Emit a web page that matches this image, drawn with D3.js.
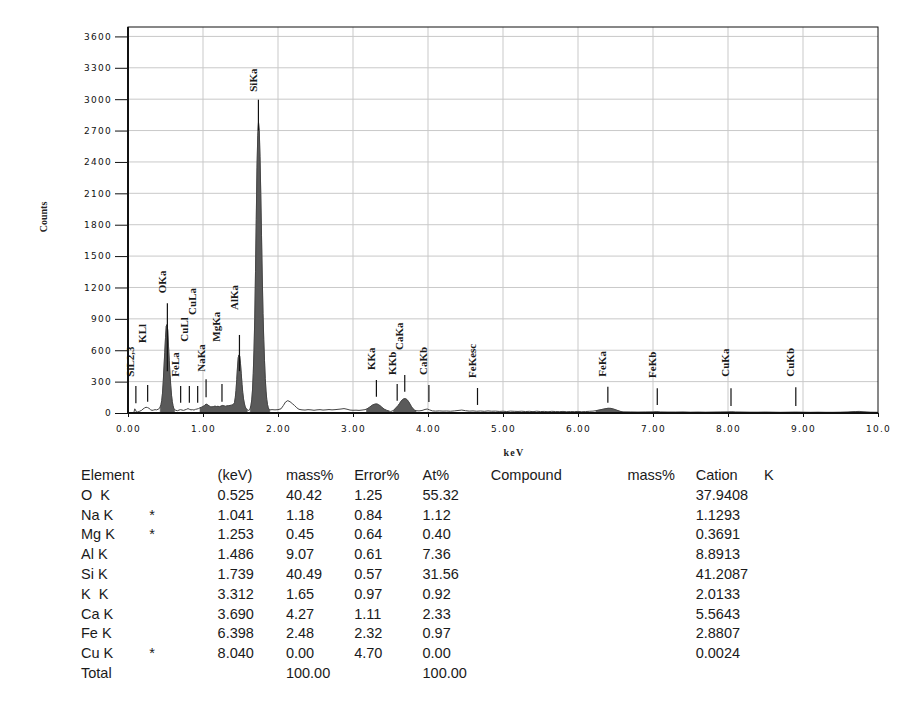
<!DOCTYPE html>
<html>
<head>
<meta charset="utf-8">
<script src="https://cdn.jsdelivr.net/npm/d3@7"></script>
<style>
body { margin: 0; background: #fff; }
svg { display: block; }
</style>
</head>
<body>
<svg id="chart" width="921" height="713"></svg>
<script>
// spectrum: [keV, counts]
var spectrum = [
  [0.00,0],[0.04,0],[0.07,2],[0.08,10],[0.09,40],[0.10,30],[0.11,12],[0.13,10],[0.15,15],[0.18,25],
  [0.20,38],[0.22,48],[0.24,55],[0.26,52],[0.28,45],[0.30,32],[0.32,25],[0.34,28],[0.36,32],[0.38,30],
  [0.40,35],[0.42,45],
  [0.43,60],[0.44,80],[0.45,120],[0.46,190],[0.47,300],[0.48,440],[0.49,580],[0.50,720],[0.51,830],
  [0.52,845],[0.53,790],[0.54,640],[0.55,500],[0.56,370],[0.57,260],[0.58,170],[0.59,110],[0.60,70],
  [0.61,45],[0.62,32],
  [0.64,25],[0.66,22],[0.68,28],[0.70,32],[0.72,28],[0.74,25],[0.76,30],[0.78,35],[0.80,42],[0.82,35],
  [0.84,30],[0.86,32],[0.88,28],[0.90,35],[0.92,38],[0.94,42],
  [0.96,50],[0.98,55],[1.00,62],[1.02,72],[1.04,85],[1.06,80],[1.08,68],[1.10,60],[1.12,58],[1.14,62],
  [1.16,65],[1.18,62],[1.20,64],[1.22,60],[1.24,66],[1.26,72],[1.28,68],[1.30,64],[1.32,68],[1.34,70],
  [1.36,72],[1.38,75],
  [1.40,80],[1.41,85],[1.42,100],[1.43,145],[1.44,215],[1.45,320],[1.46,440],[1.47,530],[1.48,555],
  [1.49,540],[1.50,470],[1.51,375],[1.52,275],[1.53,195],[1.54,135],[1.55,95],[1.56,65],[1.57,48],
  [1.58,38],[1.59,30],[1.60,25],[1.61,25],[1.62,30],
  [1.63,45],[1.64,75],[1.65,125],[1.66,220],[1.67,380],[1.68,600],[1.69,900],[1.70,1350],[1.71,1850],
  [1.72,2350],[1.73,2650],[1.74,2780],[1.75,2700],[1.76,2450],[1.77,2100],[1.78,1700],[1.79,1300],
  [1.80,950],[1.81,700],[1.82,500],[1.83,330],[1.84,210],[1.85,130],[1.86,80],[1.87,50],[1.88,35],[1.89,30],
  [1.92,32],[1.96,30],[2.00,32],[2.04,40],[2.07,70],[2.10,105],[2.13,118],[2.16,108],[2.19,90],[2.22,72],
  [2.25,50],[2.28,35],[2.32,30],[2.36,28],[2.40,32],[2.44,30],[2.48,26],[2.52,30],[2.56,32],[2.60,28],
  [2.64,30],[2.68,33],[2.72,30],[2.76,32],[2.80,35],[2.84,38],[2.88,42],[2.92,36],[2.96,28],[3.00,26],
  [3.04,27],[3.08,25],[3.12,28],[3.16,32],
  [3.18,38],[3.20,45],[3.22,55],[3.24,66],[3.26,76],[3.28,82],[3.30,86],[3.32,86],[3.34,80],[3.36,70],
  [3.38,58],[3.40,45],[3.42,35],[3.45,25],[3.48,18],[3.50,15],[3.52,18],
  [3.54,25],[3.56,40],[3.58,55],[3.60,70],[3.62,90],[3.64,112],[3.66,128],[3.68,136],[3.70,137],[3.72,128],
  [3.74,110],[3.76,85],[3.78,60],[3.80,40],[3.82,28],[3.84,22],
  [3.88,20],[3.92,24],[3.96,34],[3.99,38],[4.02,30],[4.06,20],[4.10,18],[4.15,20],[4.20,18],[4.25,19],
  [4.30,17],[4.35,20],[4.40,24],[4.45,28],[4.50,22],[4.55,18],[4.60,20],[4.65,17],[4.70,19],[4.75,16],
  [4.80,20],[4.85,17],[4.90,18],[4.95,15],[5.00,17],[5.05,14],[5.10,18],[5.15,16],[5.20,15],[5.25,17],
  [5.30,14],[5.35,16],[5.40,13],[5.45,17],[5.50,14],[5.55,15],[5.60,12],[5.65,16],[5.70,14],[5.75,13],
  [5.80,15],[5.85,12],[5.90,14],[5.95,13],[6.00,15],[6.05,12],[6.10,14],[6.15,16],[6.20,18],
  [6.24,22],[6.28,28],[6.32,34],[6.36,40],[6.40,45],[6.44,44],[6.48,36],[6.52,26],[6.56,16],[6.60,10],
  [6.70,9],[6.80,8],[6.90,9],[7.00,10],[7.05,12],[7.10,9],[7.20,8],[7.30,8],[7.40,9],[7.50,7],
  [7.60,8],[7.70,7],[7.80,8],[7.90,9],[8.00,10],[8.05,11],[8.10,9],[8.20,8],[8.30,7],[8.40,7],
  [8.50,8],[8.60,7],[8.70,6],[8.80,7],[8.90,8],[9.00,7],[9.10,6],[9.20,7],[9.30,6],[9.40,6],
  [9.50,7],[9.60,9],[9.70,14],[9.75,15],[9.80,11],[9.90,7],[10.00,6]
];

// shaded windows (keV)
var fillRanges = [[0.43,0.62],[0.95,1.595],[1.625,1.89],[3.17,3.48],[3.53,3.84],[6.22,10.0]];

var yTicks = [0,300,600,900,1200,1500,1800,2100,2400,2700,3000,3300,3600];
var xTicks = [0,1,2,3,4,5,6,7,8,9,10];
var xTickLabels = ["0.00","1.00","2.00","3.00","4.00","5.00","6.00","7.00","8.00","9.00","10.0"];

// peak markers
var markerNames  = ["SiL2,3","KLl","OKa","FeLa","CuLl","CuLa","NaKa","MgKa","AlKa","SiKa",
                    "KKa","KKb","CaKa","CaKb","FeKesc","FeKa","FeKb","CuKa","CuKb"];
var markerKeV    = [0.105,0.262,0.525,0.702,0.818,0.929,1.041,1.253,1.486,1.739,
                    3.312,3.589,3.690,4.012,4.660,6.398,7.057,8.040,8.904];
var markerTop    = [258,268,1049,258,258,258,322,277,746,2995,316,277,364,268,239,252,236,236,246];
var markerBottom = [93,108,400,99,99,99,150,108,400,2700,156,118,204,105,77,99,77,67,67];
var labelBase    = [347,670,1145,347,682,938,395,682,985,3071,411,364,603,364,335,347,335,347,347];

// quantitative table
var tableHeader = ["Element","","(keV)","mass%","Error%","At%","Compound","","mass%","Cation","K"];
var elementNames = ["O  K","Na K","Mg K","Al K","Si K","K  K","Ca K","Fe K","Cu K"];
var elementFlags = ["","*","*","","","","","","*"];
var lineKeV    = ["0.525","1.041","1.253","1.486","1.739","3.312","3.690","6.398","8.040"];
var massPct    = ["40.42","1.18","0.45","9.07","40.49","1.65","4.27","2.48","0.00"];
var errorPct   = ["1.25","0.84","0.64","0.61","0.57","0.97","1.11","2.32","4.70"];
var atomPct    = ["55.32","1.12","0.40","7.36","31.56","0.92","2.33","0.97","0.00"];
var cationVals = ["37.9408","1.1293","0.3691","8.8913","41.2087","2.0133","5.5643","2.8807","0.0024"];
var totalRow   = ["Total","","","100.00","","100.00"];

var svg = d3.select("#chart");
var x = d3.scaleLinear().domain([0,10]).range([128,878]);
var y = d3.scaleLinear().domain([0,3690]).range([413,27]);

// grid
svg.append("g").selectAll("line").data(xTicks.slice(1,-1)).enter().append("line")
  .attr("x1", d => x(d)).attr("x2", d => x(d))
  .attr("y1", y(0)).attr("y2", y.range()[1])
  .attr("stroke", "#c9c9c9");
svg.append("g").selectAll("line").data(yTicks.slice(1)).enter().append("line")
  .attr("x1", x(0)).attr("x2", x(10))
  .attr("y1", d => y(d)).attr("y2", d => y(d))
  .attr("stroke", "#c9c9c9");

// spectrum fill
var area = d3.area().x(d => x(d[0])).y0(y(0)).y1(d => y(d[1]));
fillRanges.forEach(function(r){
  var pts = spectrum.filter(d => d[0] >= r[0] && d[0] <= r[1]);
  svg.append("path").datum(pts).attr("d", area)
    .attr("fill", "#5a5a5a").attr("stroke", "#5a5a5a").attr("stroke-width", 0.6);
});

var line = d3.line().x(d => x(d[0])).y(d => y(d[1]));
svg.append("path").datum(spectrum).attr("d", line)
  .attr("fill", "none").attr("stroke", "#444").attr("stroke-width", 1);

// markers + labels
var mk = svg.append("g");
markerNames.forEach(function(name, i){
  var mx = x(markerKeV[i]);
  mk.append("line")
    .attr("x1", mx).attr("x2", mx)
    .attr("y1", y(markerTop[i])).attr("y2", y(markerBottom[i]))
    .attr("stroke", "#111").attr("stroke-width", 1.2);
  var lx = mx - 1.5, ly = y(labelBase[i]);
  mk.append("text")
    .attr("x", lx).attr("y", ly)
    .attr("transform", "rotate(-90," + lx + "," + ly + ")")
    .attr("font-family", "Liberation Serif, serif")
    .attr("font-weight", "bold")
    .attr("font-size", 11)
    .attr("fill", "#1a1a1a")
    .text(name);
});

// frame
svg.append("rect")
  .attr("x", x(0)).attr("y", y.range()[1])
  .attr("width", x(10) - x(0)).attr("height", y(0) - y.range()[1])
  .attr("fill", "none").attr("stroke", "#111").attr("stroke-width", 1);
svg.append("line").attr("x1", x(0)).attr("x2", x(0)).attr("y1", y.range()[1]).attr("y2", y(0))
  .attr("stroke", "#111").attr("stroke-width", 2);
svg.append("line").attr("x1", x(0)).attr("x2", x(10)).attr("y1", y(0)).attr("y2", y(0))
  .attr("stroke", "#111").attr("stroke-width", 2);

// axes
var yAxis = svg.append("g").attr("transform", "translate(" + x(0) + ",0)")
  .call(d3.axisLeft(y).tickValues(yTicks).tickSize(13).tickPadding(3).tickFormat(d3.format("d")));
var xAxis = svg.append("g").attr("transform", "translate(0," + y(0) + ")")
  .call(d3.axisBottom(x).tickValues(xTicks).tickSize(4).tickPadding(9)
    .tickFormat((d, i) => xTickLabels[i]));
[yAxis, xAxis].forEach(function(a){
  a.select(".domain").remove();
  a.selectAll(".tick line").attr("stroke", "#111");
  a.selectAll("text")
    .attr("font-family", "DejaVu Sans, sans-serif")
    .attr("font-size", 9)
    .attr("letter-spacing", 1.3)
    .attr("fill", "#111");
});

svg.append("text")
  .attr("transform", "translate(47,217) rotate(-90)")
  .attr("text-anchor", "middle")
  .attr("font-family", "Liberation Serif, serif")
  .attr("font-weight", "bold")
  .attr("font-size", 10)
  .attr("fill", "#222")
  .text("Counts");
svg.append("text")
  .attr("x", 514).attr("y", 456)
  .attr("text-anchor", "middle")
  .attr("font-family", "Liberation Serif, serif")
  .attr("font-weight", "bold")
  .attr("font-size", 10)
  .attr("letter-spacing", 1.2)
  .attr("fill", "#222")
  .text("keV");

// table
var colX = d3.range(11).map(i => 81 + i * 68.3);
var rowY = d3.range(11).map(i => 480 + i * 19.8);
var tbl = svg.append("g")
  .attr("font-family", "Liberation Sans, Arial, sans-serif")
  .attr("font-size", 14.5)
  .attr("fill", "#1a1a1a");
function cell(col, row, txt){
  if (txt === "") return;
  tbl.append("text").attr("x", colX[col]).attr("y", rowY[row])
    .attr("xml:space", "preserve")
    .style("white-space", "pre")
    .text(txt);
}
tableHeader.forEach((t, c) => cell(c, 0, t));
elementNames.forEach(function(n, i){
  var r = i + 1;
  cell(0, r, n);
  cell(1, r, elementFlags[i]);
  cell(2, r, lineKeV[i]);
  cell(3, r, massPct[i]);
  cell(4, r, errorPct[i]);
  cell(5, r, atomPct[i]);
  cell(9, r, cationVals[i]);
});
totalRow.forEach((t, c) => cell(c, 10, t));
</script>
</body>
</html>
